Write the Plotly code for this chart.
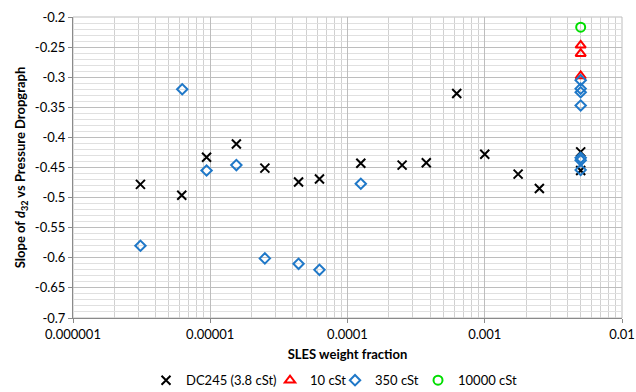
import plotly.graph_objects as go

# DC245 (3.8 cSt)
dc_x = [3.1e-6, 6.2e-6, 9.4e-6, 1.55e-5, 2.5e-5, 4.4e-5, 6.25e-5, 1.25e-4, 2.5e-4, 3.75e-4,
        6.25e-4, 1.0e-3, 1.75e-3, 2.5e-3, 5e-3, 5e-3]
dc_y = [-0.478, -0.496, -0.433, -0.411, -0.451, -0.474, -0.469, -0.443, -0.446, -0.442,
        -0.327, -0.428, -0.461, -0.485, -0.424, -0.455]

# 10 cSt
c10_x = [5e-3, 5e-3, 5e-3]
c10_y = [-0.247, -0.261, -0.298]

# 350 cSt
c350_x = [6.25e-6, 3.1e-6, 9.4e-6, 1.55e-5, 2.5e-5, 4.4e-5, 6.25e-5, 1.25e-4,
          5e-3, 5e-3, 5e-3, 5e-3, 5e-3, 5e-3, 5e-3]
c350_y = [-0.320, -0.580, -0.455, -0.446, -0.601, -0.610, -0.620, -0.477,
          -0.305, -0.319, -0.325, -0.347, -0.434, -0.438, -0.454]

# 10000 cSt
c10k_x = [5e-3]
c10k_y = [-0.217]

x_tickvals = [1e-6, 1e-5, 1e-4, 1e-3, 1e-2]
x_ticktext = ["0.000001", "0.00001", "0.0001", "0.001", "0.01"]
y_tickvals = [-0.7, -0.65, -0.6, -0.55, -0.5, -0.45, -0.4, -0.35, -0.3, -0.25, -0.2]
y_ticktext = ["-0.7", "-0.65", "-0.6", "-0.55", "-0.5", "-0.45", "-0.4", "-0.35", "-0.3", "-0.25", "-0.2"]

x_minor = [m * 10 ** e for e in range(-6, -2) for m in range(2, 10)]

FONT = "Lato, Liberation Sans, Arial, sans-serif"

fig = go.Figure()
fig.add_trace(go.Scatter(x=dc_x, y=dc_y, mode="markers", name="DC245 (3.8 cSt)", legendwidth=79,
                         marker=dict(symbol="x-thin-open", size=9, color="black",
                                     line=dict(color="black", width=2))))
fig.add_trace(go.Scatter(x=c10_x, y=c10_y, mode="markers", name="10 cSt", legendwidth=20,
                         marker=dict(symbol="triangle-up-open", size=9, color="#ff0000",
                                     line=dict(color="#ff0000", width=2))))
fig.add_trace(go.Scatter(x=c350_x, y=c350_y, mode="markers", name="350 cSt", legendwidth=38,
                         marker=dict(symbol="diamond-open", size=8, color="#1f78c8",
                                     line=dict(color="#1f78c8", width=2))))
fig.add_trace(go.Scatter(x=c10k_x, y=c10k_y, mode="markers", name="10000 cSt", legendwidth=60,
                         marker=dict(symbol="circle-open", size=9, color="#00dd00",
                                     line=dict(color="#00dd00", width=2))))

fig.update_layout(
    width=636, height=392,
    margin=dict(l=73, r=14, t=17, b=74, autoexpand=False),
    paper_bgcolor="white", plot_bgcolor="white",
    font=dict(family=FONT, size=13, color="black"),
    showlegend=True,
    legend=dict(orientation="h", x=0.133, xanchor="left",
                yref="container", y=0.03, yanchor="middle",
                font=dict(family=FONT, size=13), itemwidth=30, tracegroupgap=0),
    xaxis=dict(type="log", range=[-6, -2], tickvals=x_tickvals, ticktext=x_ticktext,
               automargin=False,
               showgrid=True, gridcolor="#bdbdbd", gridwidth=1,
               minor=dict(tickvals=x_minor, showgrid=True, gridcolor="#d0d0d0", ticks=""),
               showline=True, linecolor="#8a8a8a", linewidth=1,
               ticks="outside", ticklen=4, tickcolor="#8a8a8a",
               tickfont=dict(size=13),
               zeroline=False, mirror=False,
               title=dict(text="<b>SLES weight fraction</b>", font=dict(size=13), standoff=9)),
    yaxis=dict(range=[-0.7, -0.2], tickvals=y_tickvals, ticktext=y_ticktext,
               automargin=False,
               showgrid=True, gridcolor="#bdbdbd", gridwidth=1,
               minor=dict(dtick=0.01, showgrid=True, gridcolor="#e0e0e0", ticks=""),
               showline=True, linecolor="#8a8a8a", linewidth=1,
               ticks="outside", ticklen=4, tickcolor="#8a8a8a",
               tickfont=dict(size=13),
               zeroline=False,
               title=dict(text="<b>Slope of <i>d</i><sub>32</sub> vs Pressure Dropgraph</b>",
                          font=dict(size=13), standoff=6)),
)
fig.add_shape(type="rect", xref="paper", yref="paper", x0=0, y0=0, x1=1, y1=1,
              line=dict(color="#bdbdbd", width=1), layer="below")

fig.write_html("out.html")
